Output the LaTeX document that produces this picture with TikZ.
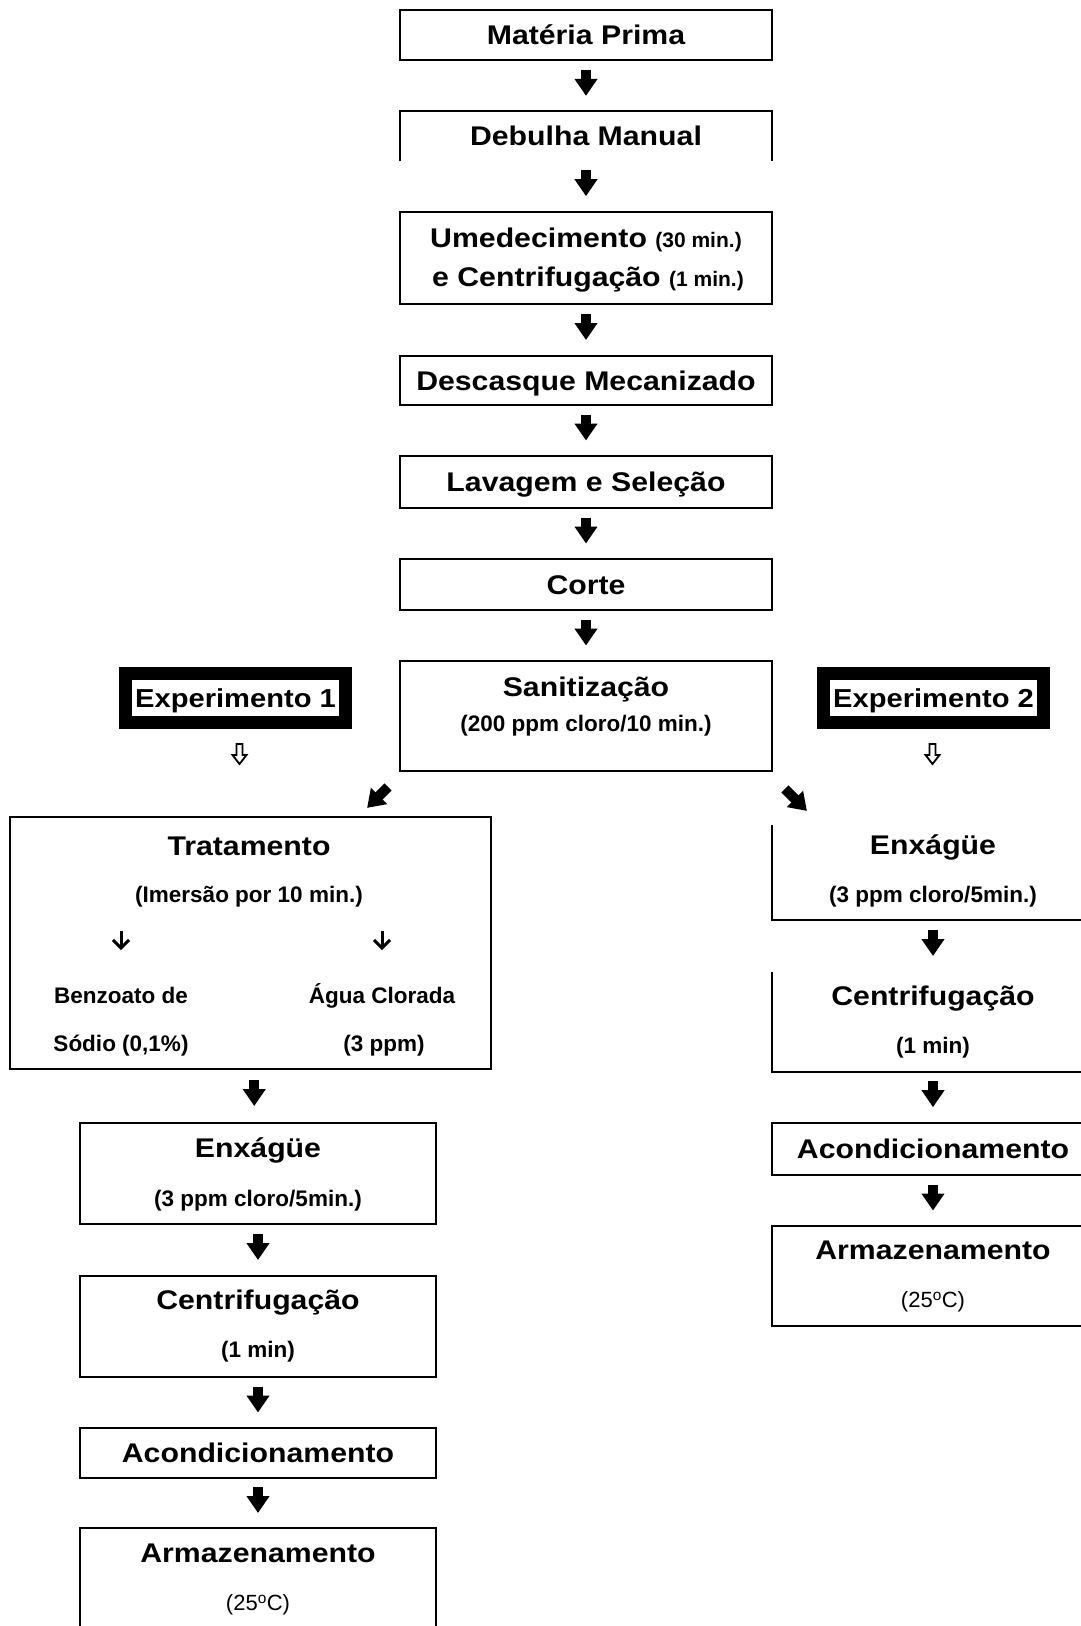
\documentclass[tikz,border=0pt]{standalone}
\usepackage{fontspec}
\setmainfont{Liberation Sans}
\newfontfamily\largafont{Liberation Sans}[FakeStretch=1.12]
\usetikzlibrary{arrows.meta,calc}

\newcommand{\fTitulo}{\largafont\bfseries\fontsize{27}{31}\selectfont}
\newcommand{\fExp}{\largafont\bfseries\fontsize{26}{30}\selectfont}
\newcommand{\fSub}{\normalfont\bfseries\fontsize{22.5}{26}\selectfont}
\newcommand{\fMenor}{\normalfont\bfseries\fontsize{21}{24}\selectfont}
\newcommand{\fTemp}{\normalfont\fontsize{22}{26}\selectfont}

\tikzset{
  titulo/.style={inner sep=0pt,font=\fTitulo,text height=19.3pt,text depth=0pt},
  sub/.style={inner sep=0pt,font=\fSub,text height=16.1pt,text depth=0pt},
  temp/.style={inner sep=0pt,font=\fTemp,text height=15.8pt,text depth=0pt},
  caixa/.style={titulo,draw,line width=1.8pt,minimum width=372pt},
  linha/.style={line width=1.8pt},
  exper/.style={inner sep=0pt,font=\fExp,text height=18.6pt,text depth=0pt,
    draw=black,fill=white,line width=13pt,minimum width=220pt,minimum height=49pt},
  seta/.style={line width=10pt,-{Triangle[width=22pt,length=17pt]}},
  setinha/.style={line width=3pt,-{Straight Barb[width=16pt,length=8pt]}},
  vazada/.style={line width=1.8pt,line join=miter},
}

\newcommand{\seta}[2]{\draw[seta] ($(#1.south)!.5!(#2.north)+(0,-16)$) -- ($(#1.south)!.5!(#2.north)+(0,10)$);}

\begin{document}
\begin{tikzpicture}[x=1pt,y=-1pt]
\useasboundingbox (0,0) rectangle (1081,1626);
\clip (0,0) rectangle (1081,1626);

% coluna central
\node[caixa,minimum height=50pt] (mp) at (586,35) {Matéria Prima};
\node[titulo,minimum width=372pt,minimum height=50pt] (dm) at (586,136) {Debulha Manual};
\draw[linha] (dm.south west) |- (dm.north east) -- (dm.south east);
\node[caixa,minimum height=92pt] (um) at (586,258) {};
\node[titulo] (um1) at (586,238) {Umedecimento {\fMenor (30 min.)}};
\node[titulo] (um2) at (588,277) {e Centrifugação {\fMenor (1 min.)}};
\node[caixa,minimum height=49pt] (dc) at (586,380.5) {Descasque Mecanizado};
\node[caixa,minimum height=52pt] (lv) at (586,482) {Lavagem e Seleção};
\node[caixa,minimum height=51pt] (co) at (586,584.5) {Corte};
\node[caixa,minimum height=110pt] (sa) at (586,716) {};
\node[titulo] (sa1) at (586,687) {Sanitização};
\node[sub] (sa2) at (586,723) {(200 ppm cloro/10 min.)};

% experimentos
\node[exper] (e1) at (235.5,698) {Experimento 1};
\node[exper] (e2) at (933.5,698) {Experimento 2};
\draw[vazada] ([shift={(4,15)}]e1.south) ++(-3,0) -- ++(6,0) -- ++(0,11) -- ++(4,0)
  -- ++(-7,9) -- ++(-7,-9) -- ++(4,0) -- cycle;
\draw[vazada] ([shift={(-1,15)}]e2.south) ++(-3,0) -- ++(6,0) -- ++(0,11) -- ++(4,0)
  -- ++(-7,9) -- ++(-7,-9) -- ++(4,0) -- cycle;
\draw[seta] ([shift={(-11,15)}]sa.south west) -- ([shift={(-32,36)}]sa.south west);
\draw[seta] ([shift={(12,17)}]sa.south east) -- ([shift={(34,39)}]sa.south east);

% experimento 1
\node[caixa,minimum width=481pt,minimum height=252pt] (tr) at (250.5,943) {};
\node[titulo] (tr1) at (249,846) {Tratamento};
\node[sub] (tr2) at (249,894) {(Imersão por 10 min.)};
\node[sub] (bz1) at (121,995) {Benzoato de};
\node[sub] (bz2) at (121,1043) {Sódio (0,1\%)};
\node[sub] (ag1) at (382,995) {Água Clorada};
\node[sub] (ag2) at (384,1043) {(3 ppm)};
\draw[setinha] ([yshift=64pt]bz1.center) -- ([yshift=45pt]bz1.center);
\draw[setinha] ([yshift=64pt]ag1.center) -- ([yshift=45pt]ag1.center);
\node[caixa,minimum width=356pt,minimum height=101pt] (en1) at (258,1173.5) {};
\node[titulo] (en1a) at (258,1148) {Enxágüe};
\node[sub] (en1b) at (258,1198) {(3 ppm cloro/5min.)};
\node[caixa,minimum width=356pt,minimum height=101pt] (ce1) at (258,1326.5) {};
\node[titulo] (ce1a) at (258,1300) {Centrifugação};
\node[sub] (ce1b) at (258,1349) {(1 min)};
\node[caixa,minimum width=356pt,minimum height=50pt] (ac1) at (258,1453) {Acondicionamento};
\node[caixa,minimum width=356pt,minimum height=115pt] (ar1) at (258,1585.5) {};
\node[titulo] (ar1a) at (258,1553) {Armazenamento};
\node[temp] (ar1b) at (258,1603) {(25\textsuperscript{o}C)};

% experimento 2
\node[titulo,minimum width=322pt,minimum height=95pt] (en2) at (933,872.5) {};
\draw[linha] (en2.north west) |- (en2.south east);
\node[titulo] (en2a) at (933,845) {Enxágüe};
\node[sub] (en2b) at (933,894) {(3 ppm cloro/5min.)};
\node[titulo,minimum width=322pt,minimum height=100pt] (ce2) at (933,1022) {};
\draw[linha] (ce2.north west) |- (ce2.south east);
\node[titulo] (ce2a) at (933,996) {Centrifugação};
\node[sub] (ce2b) at (933,1045) {(1 min)};
\node[caixa,minimum width=322pt,minimum height=52pt] (ac2) at (933,1149) {Acondicionamento};
\node[caixa,minimum width=322pt,minimum height=100pt] (ar2) at (933,1276) {};
\node[titulo] (ar2a) at (933,1250) {Armazenamento};
\node[temp] (ar2b) at (933,1300) {(25\textsuperscript{o}C)};

\foreach \a/\b in {mp/dm,dm/um,um/dc,dc/lv,lv/co,co/sa,tr/en1,en1/ce1,ce1/ac1,ac1/ar1,en2/ce2,ce2/ac2,ac2/ar2}
  {\seta{\a}{\b}}
\end{tikzpicture}
\end{document}
